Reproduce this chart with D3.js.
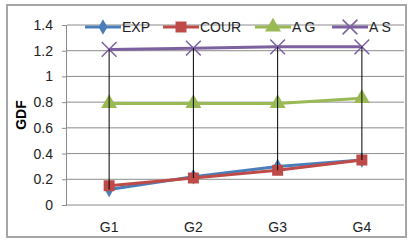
<!DOCTYPE html>
<html>
<head>
<meta charset="utf-8">
<script src="https://cdn.jsdelivr.net/npm/d3@7"></script>
<style>
  body { margin: 0; background: #fff; }
  svg { display: block; font-family: "Liberation Sans", Arial, sans-serif; }
</style>
</head>
<body>
<svg id="chart" width="412" height="244"></svg>
<script>
// data
var categories = ["G1", "G2", "G3", "G4"];
var seriesNames = ["EXP", "COUR", "A G", "A S"];
var expValues = [0.12, 0.22, 0.30, 0.35];
var courValues = [0.15, 0.21, 0.27, 0.35];
var agValues = [0.79, 0.79, 0.79, 0.83];
var asValues = [1.21, 1.22, 1.23, 1.23];
var yTicks = [0, 0.2, 0.4, 0.6, 0.8, 1, 1.2, 1.4];

var colors = ["#4a7ebb", "#be4b48", "#98b954", "#7d60a0"];
var symbols = ["diamond", "square", "triangle", "cross"];
var allValues = [expValues, courValues, agValues, asValues];

var svg = d3.select("#chart");
var margin = { top: 25, right: 6, bottom: 39, left: 67 };
var width = 404 - margin.left, height = 205 - margin.top;

// outer frame
svg.append("rect")
    .attr("x", 7).attr("y", 5)
    .attr("width", 399).attr("height", 232)
    .attr("fill", "#fff")
    .attr("stroke", "#a6a6a6")
    .attr("stroke-width", 2);

var x = d3.scaleBand().domain(categories).range([0, width]);
var y = d3.scaleLinear().domain([0, 1.4]).range([height, 0]);

var g = svg.append("g").attr("transform", "translate(" + margin.left + "," + margin.top + ")");

// gridlines
g.selectAll(".grid")
    .data(yTicks)
    .join("line")
    .attr("x1", 0).attr("x2", width)
    .attr("y1", d => y(d)).attr("y2", d => y(d))
    .attr("stroke", "#8c8c8c")
    .attr("stroke-width", 1);

// y axis
var yAxis = g.append("g")
    .call(d3.axisLeft(y).tickValues(yTicks).tickSize(5).tickPadding(9).tickFormat(d3.format("")));
yAxis.select(".domain").attr("stroke", "#8c8c8c").attr("d", "M-0.5,0V" + height);
yAxis.selectAll(".tick line").attr("stroke", "#8c8c8c");
yAxis.selectAll("text").attr("font-size", 14).attr("fill", "#222");

// x axis labels
var xAxis = g.append("g")
    .attr("transform", "translate(0," + height + ")")
    .call(d3.axisBottom(x).tickSize(0).tickPadding(17));
xAxis.select(".domain").remove();
xAxis.selectAll("text").attr("font-size", 14).attr("fill", "#222");

// axis title
svg.append("text")
    .attr("transform", "translate(26,115) rotate(-90)")
    .attr("text-anchor", "middle")
    .attr("font-size", 14)
    .attr("font-weight", "bold")
    .text("GDF");

var cx = d => x(d) + x.bandwidth() / 2;

function marker(sel, i, size) {
    if (symbols[i] === "cross") {
        sel.append("path")
            .attr("d", d3.symbol(d3.symbolX, size * 1.6)())
            .attr("fill", "none")
            .attr("stroke", colors[i])
            .attr("stroke-width", 1.5);
    } else {
        var t = { diamond: d3.symbolDiamond, square: d3.symbolSquare, triangle: d3.symbolTriangle }[symbols[i]];
        sel.append("path")
            .attr("d", d3.symbol(t, size)())
            .attr("fill", colors[i]);
    }
}
var sizes = [70, 120, 110, 90];

var line = d3.line().x((d, j) => cx(categories[j])).y(d => y(d));

allValues.forEach(function(vals, i) {
    g.append("path")
        .datum(vals)
        .attr("d", line)
        .attr("fill", "none")
        .attr("stroke", colors[i])
        .attr("stroke-width", 3);
    vals.forEach(function(v, j) {
        var m = g.append("g").attr("transform", "translate(" + cx(categories[j]) + "," + y(v) + ")");
        marker(m, i, sizes[i]);
    });
});

// high-low lines
g.selectAll(".hilo")
    .data(categories)
    .join("line")
    .attr("x1", d => cx(d)).attr("x2", d => cx(d))
    .attr("y1", (d, j) => y(d3.max(allValues, v => v[j])))
    .attr("y2", (d, j) => y(d3.min(allValues, v => v[j])))
    .attr("stroke", "#000")
    .attr("stroke-width", 1);

// legend
var legendX = [85, 163, 255, 332];
seriesNames.forEach(function(name, i) {
    var lg = svg.append("g").attr("transform", "translate(" + legendX[i] + ",27)");
    lg.append("line").attr("x1", 0).attr("x2", 36).attr("stroke", colors[i]).attr("stroke-width", 3);
    marker(lg.append("g").attr("transform", "translate(18,0)"), i, sizes[i]);
    lg.append("text").attr("x", 37).attr("y", 5).attr("font-size", 14).attr("fill", "#222").text(name);
});
</script>
</body>
</html>
